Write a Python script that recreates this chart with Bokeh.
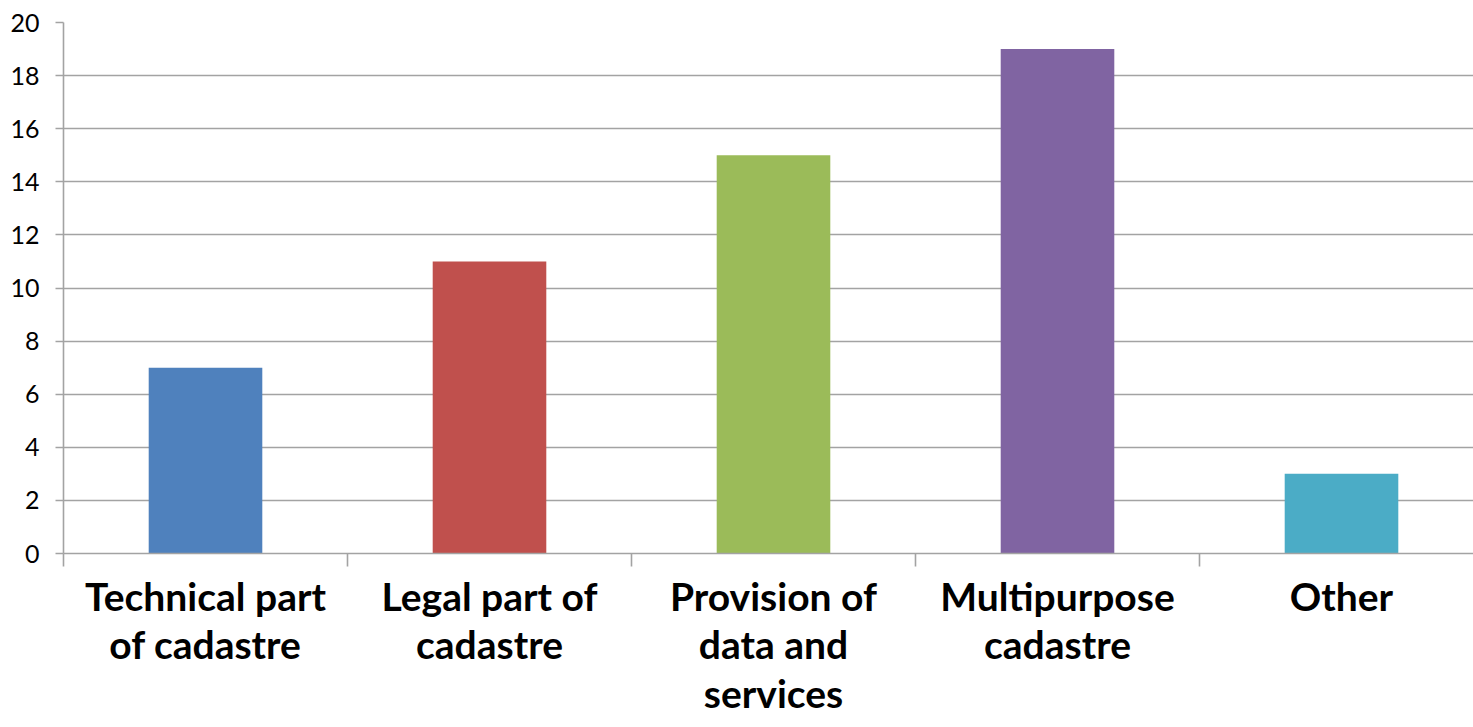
from bokeh.plotting import figure
from bokeh.models import Range1d, FixedTicker, ColumnDataSource
from bokeh.embed import file_html
from bokeh.resources import INLINE

categories = ["Technical part\nof cadastre", "Legal part of\ncadastre",
              "Provision of\ndata and\nservices", "Multipurpose\ncadastre", "Other"]
values = [7, 11, 15, 19, 3]
colors = ["#4F81BD", "#C0504D", "#9BBB59", "#8064A2", "#4BACC6"]
y_ticks = [0, 2, 4, 6, 8, 10, 12, 14, 16, 18, 20]

xs = [i + 0.5 for i in range(len(categories))]
src = ColumnDataSource(dict(x=xs, top=values, color=colors, cat=categories))

W, H = 1473, 727
left, top, bottom = 63, 22, 174
frame_w = W - left
x_end = frame_w / 284.0

p = figure(width=W, height=H, output_backend="svg", toolbar_location=None,
           x_range=Range1d(0, x_end), y_range=Range1d(0, 20),
           min_border_left=left, min_border_top=top, min_border_bottom=bottom,
           min_border_right=0, outline_line_color=None)

p.vbar(x="x", top="top", width=0.4, color="color", source=src, line_color=None)

grid_col = "#a3a3a3"
p.xgrid.visible = False
p.ygrid.grid_line_color = grid_col
p.ygrid.grid_line_width = 1.6
p.ygrid.ticker = FixedTicker(ticks=y_ticks)

ya = p.yaxis[0]
ya.ticker = FixedTicker(ticks=y_ticks, minor_ticks=[])
ya.axis_line_color = grid_col
ya.axis_line_width = 1.6
ya.major_tick_line_color = grid_col
ya.major_tick_line_width = 1.6
ya.major_tick_out = 8
ya.major_tick_in = 0
ya.minor_tick_line_color = None
ya.major_label_standoff = 16
ya.major_label_text_font = "Lato"
ya.major_label_text_font_size = "25px"
ya.major_label_text_color = "#000000"

xa = p.xaxis[0]
xa.ticker = FixedTicker(ticks=xs, minor_ticks=list(range(len(categories) + 1)))
xa.major_label_overrides = {x: c for x, c in zip(xs, categories)}
xa.axis_line_color = grid_col
xa.axis_line_width = 1.6
xa.major_tick_line_color = None
xa.major_tick_out = 0
xa.major_tick_in = 0
xa.minor_tick_line_color = grid_col
xa.minor_tick_line_width = 1.6
xa.minor_tick_out = 13
xa.minor_tick_in = 0
xa.major_label_standoff = 6
xa.major_label_text_font = "Lato"
xa.major_label_text_font_style = "bold"
xa.major_label_text_font_size = "39px"
xa.major_label_text_line_height = 1.065
xa.major_label_text_color = "#000000"

open("out.html", "w").write(file_html(p, INLINE))
